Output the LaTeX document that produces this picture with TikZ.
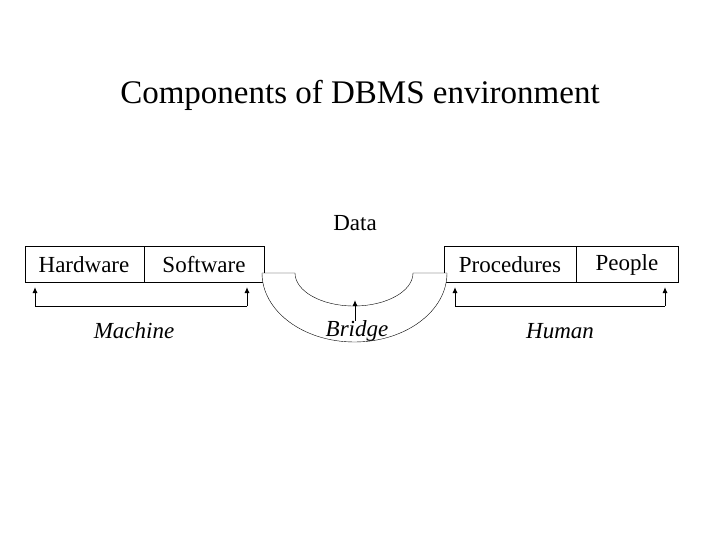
\documentclass[tikz,border=0pt]{standalone}
\usepackage{fontspec}
\setmainfont{Liberation Serif}
\usetikzlibrary{arrows.meta}
\begin{document}
\begin{tikzpicture}[x=1pt,y=-1pt,
  lab/.style={font=\fontsize{23}{26}\selectfont, inner sep=0pt},
  arr/.style={-{Latex[length=6pt,width=5pt]}, line width=1pt}]
\useasboundingbox (0,0) rectangle (720,540);
\fill[white] (0,0) rectangle (720,540);
\node[font=\fontsize{33}{36}\selectfont, inner sep=0pt] (title) at (360,95) {Components of DBMS environment};
% left box
\draw (25,246) rectangle (264,282);
\draw (144,246) -- (144,282);
\node[lab] (hw) at (84,265) {Hardware};
\node[lab] (sw) at (204,265) {Software};
% right box
\draw (444,246) rectangle (678,282);
\draw (576,246) -- (576,282);
\node[lab] (pr) at (510,265) {Procedures};
\node[lab] (pe) at (627,265) {People};
% arch
\draw[fill=white] (262,273) arc[start angle=180,end angle=0,x radius=92.5,y radius=69]
  -- (413,273) arc[start angle=0,end angle=180,x radius=59,y radius=33] -- cycle;
\node[lab] (data) at (355,223) {Data};
% brackets
\coordinate (a1) at (35,306); \coordinate (a2) at (247,306);
\draw[arr] (a1) -- (35,287);
\draw[arr] (a2) -- (247,287);
\draw[line width=1pt] (a1) -- (a2);
\coordinate (b1) at (455,306); \coordinate (b2) at (665,306);
\draw[arr] (b1) -- (455,287);
\draw[arr] (b2) -- (665,287);
\draw[line width=1pt] (b1) -- (b2);
\draw[arr] (355,321) -- (355,300);
\node[lab,font=\fontsize{23}{26}\selectfont\itshape] (m) at (134,331) {Machine};
\node[lab,font=\fontsize{23}{26}\selectfont\itshape] (br) at (357,331) {Bridge};
\node[lab,font=\fontsize{23}{26}\selectfont\itshape] (hu) at (560,331) {Human};
\end{tikzpicture}
\end{document}
